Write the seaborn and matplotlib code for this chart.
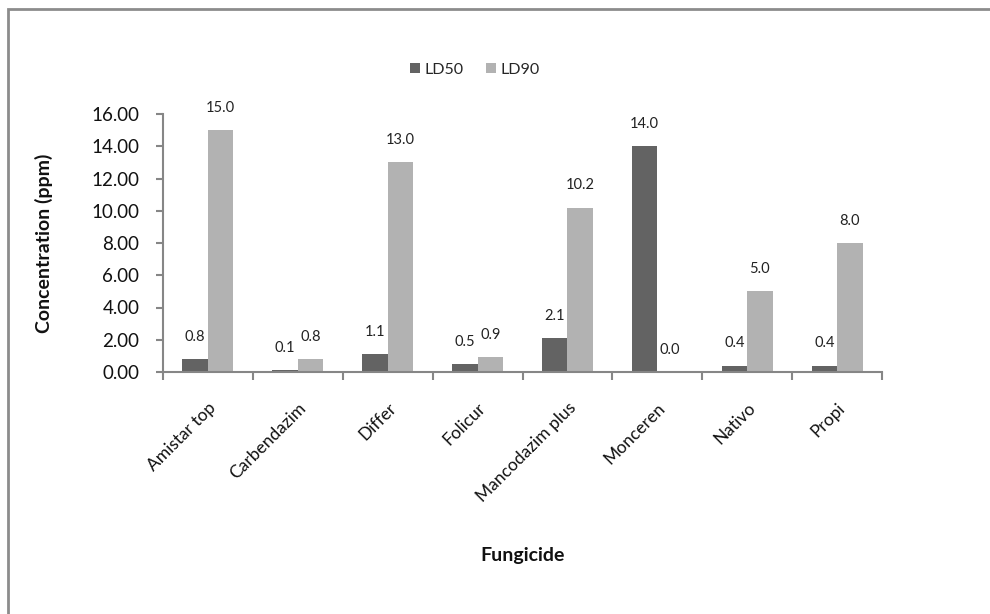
import pandas as pd
import matplotlib.pyplot as plt
import matplotlib.patches as mpatches
import seaborn as sns

fungicides = ['Amistar top', 'Carbendazim', 'Differ', 'Folicur',
              'Mancodazim plus', 'Monceren', 'Nativo', 'Propi']
ld50 = [0.8, 0.1, 1.1, 0.5, 2.1, 14.0, 0.4, 0.4]
ld90 = [15.0, 0.8, 13.0, 0.9, 10.2, 0.0, 5.0, 8.0]
y_ticks = [0, 2, 4, 6, 8, 10, 12, 14, 16]

df = pd.DataFrame({
    'Fungicide': fungicides * 2,
    'Concentration': ld50 + ld90,
    'Dose': ['LD50'] * len(ld50) + ['LD90'] * len(ld90),
})

sns.set_theme(style="white")
plt.rcParams['font.family'] = ['Lato', 'DejaVu Sans']

fig = plt.figure(figsize=(9.9, 6.14), dpi=100)
ax = fig.add_axes([163 / 990, 1 - 372 / 614, (882 - 163) / 990, (372 - 114) / 614])

sns.barplot(data=df, x='Fungicide', y='Concentration', hue='Dose',
            palette=['#636363', '#b2b2b2'], width=0.567, gap=0,
            saturation=1, edgecolor='none', linewidth=0, errorbar=None, ax=ax)

for cont in ax.containers:
    ax.bar_label(cont, fmt='%.1f', padding=11, fontsize=10.5, color='#222222')

ax.set_ylim(0, 16)
ax.set_xlim(-0.5, len(fungicides) - 0.5)
ax.set_yticks(y_ticks)
ax.set_yticklabels([f'{v:.2f}' for v in y_ticks], fontsize=13.5, color='#111111')
ax.set_xticks(range(len(fungicides)))
ax.set_xticklabels(fungicides, rotation=45, ha='right', rotation_mode='anchor',
                   fontsize=12.5, color='#111111')
ax.set_xticks([i - 0.5 for i in range(len(fungicides) + 1)], minor=True)
ax.tick_params(axis='x', which='major', length=0, pad=20)
ax.tick_params(axis='x', which='minor', length=6, width=1.5, color='#868686', direction='out', bottom=True)
ax.tick_params(axis='y', length=5, width=1.5, color='#868686', direction='out', left=True, pad=12)

for side in ['top', 'right']:
    ax.spines[side].set_visible(False)
for side in ['left', 'bottom']:
    ax.spines[side].set_color('#868686')
    ax.spines[side].set_linewidth(1.5)

ax.set_ylabel('Concentration (ppm)', fontsize=14, fontweight='bold', color='#111111')
ax.yaxis.set_label_coords((53 - 163) / 719, 0.5)
ax.set_xlabel('')
fig.text(523 / 990, 1 - 555 / 614, 'Fungicide', ha='center', va='center',
         fontsize=14, fontweight='bold', color='#111111')

sns.move_legend(ax, 'center', bbox_to_anchor=(475 / 990, 1 - 70 / 614),
                bbox_transform=fig.transFigure, ncol=2, frameon=False, title=None,
                fontsize=11.5, handlelength=0.6, handleheight=0.6,
                handletextpad=0.3, columnspacing=1.4)

# chart border (right and bottom edges fall outside the picture)
fig.add_artist(mpatches.Rectangle((8 / 990, -0.05), 1.1, 1 - 8.5 / 614 + 0.05,
                                  transform=fig.transFigure, fill=False,
                                  edgecolor='#8c8c8c', linewidth=2))

plt.savefig('out.png', dpi=100)
